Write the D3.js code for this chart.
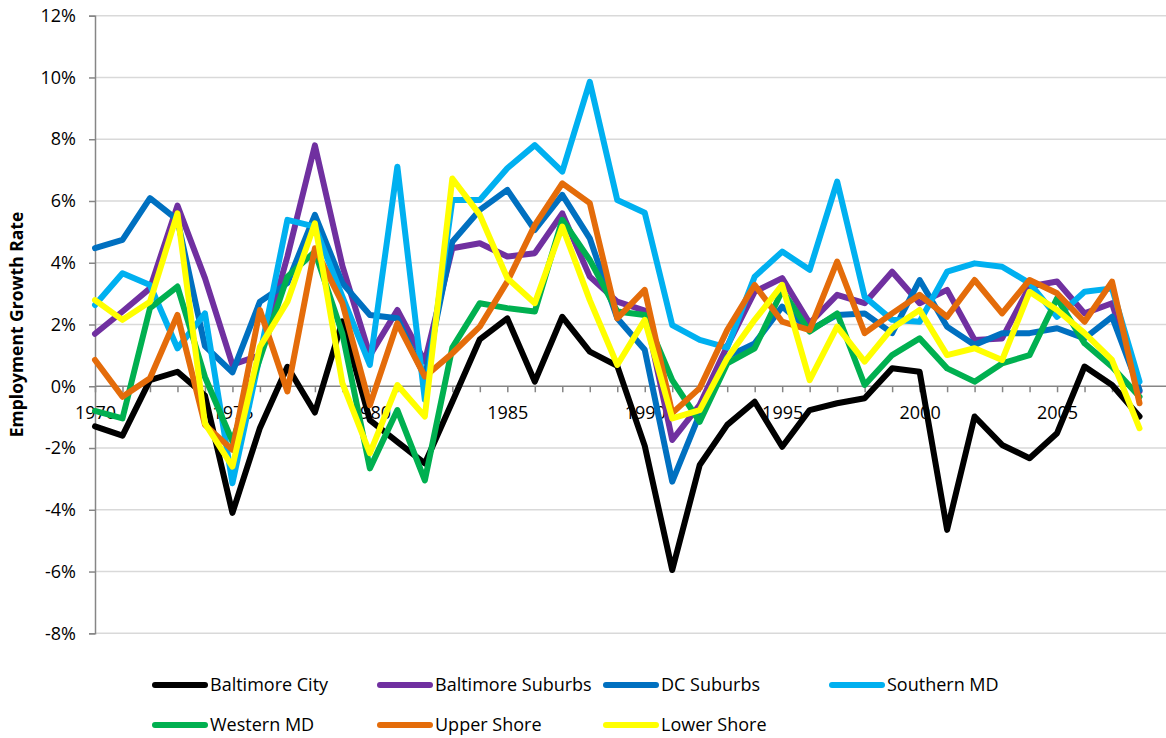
<!DOCTYPE html>
<html>
<head>
<meta charset="utf-8">
<script src="https://cdn.jsdelivr.net/npm/d3@7"></script>
<style>
  html, body { margin: 0; padding: 0; background: #fff; }
  svg { display: block; font-family: "Open Sans", "Liberation Sans", sans-serif; }
</style>
</head>
<body>
<svg id="chart" width="1166" height="738"></svg>
<script>
// ---- data ----
const years = d3.range(1970, 2009);
const yTicks = [-8, -6, -4, -2, 0, 2, 4, 6, 8, 10, 12];
const xLabelYears = [1970, 1975, 1980, 1985, 1990, 1995, 2000, 2005];

const seriesNames = ["Baltimore City", "Baltimore Suburbs", "DC Suburbs", "Southern MD", "Western MD", "Upper Shore", "Lower Shore"];
const seriesColors = ["#000000", "#7030A0", "#0070C0", "#00B0F0", "#00B050", "#E46C0A", "#FFFF00"];

const baltimoreCity = [-1.3, -1.6, 0.2, 0.47, -0.3, -4.1, -1.35, 0.63, -0.85, 2.1,
  -1.1, -1.8, -2.5, -0.5, 1.52, 2.2, 0.15, 2.25, 1.12, 0.66,
  -1.93, -5.95, -2.55, -1.25, -0.5, -1.96, -0.77, -0.55, -0.39, 0.58,
  0.47, -4.65, -0.98, -1.9, -2.33, -1.52, 0.64, 0.04, -0.98];
const baltimoreSuburbs = [1.7, 2.42, 3.17, 5.85, 3.5, 0.7, 1.0, 4.2, 7.8, 3.9,
  1.0, 2.47, 0.8, 4.47, 4.63, 4.2, 4.31, 5.6, 3.55, 2.74,
  2.45, -1.74, -0.6, 1.3, 3.06, 3.5, 2.04, 2.96, 2.69, 3.71,
  2.69, 3.12, 1.5, 1.55, 3.23, 3.39, 2.36, 2.69, -0.17];
const dcSuburbs = [4.47, 4.74, 6.09, 5.39, 1.3, 0.45, 2.74, 3.34, 5.55, 3.34,
  2.31, 2.2, 0.3, 4.68, 5.71, 6.36, 5.06, 6.2, 4.79, 2.2,
  1.18, -3.09, -0.9, 0.96, 1.39, 2.58, 1.82, 2.31, 2.36, 1.72,
  3.44, 1.93, 1.34, 1.72, 1.72, 1.88, 1.55, 2.25, -0.12];
const southernMD = [2.63, 3.66, 3.28, 1.23, 2.36, -3.14, 1.0, 5.39, 5.17, 2.9,
  0.69, 7.11, -0.44, 6.03, 6.03, 7.06, 7.81, 6.95, 9.86, 6.03,
  5.62, 1.98, 1.5, 1.25, 3.55, 4.36, 3.77, 6.63, 2.9, 2.15,
  2.09, 3.71, 3.98, 3.87, 3.34, 2.25, 3.06, 3.17, 0.15];
const westernMD = [-0.8, -1.04, 2.53, 3.23, 0.3, -1.79, 0.9, 3.55, 4.36, 1.7,
  -2.66, -0.77, -3.05, 1.25, 2.69, 2.53, 2.42, 5.39, 4.09, 2.42,
  2.31, 0.2, -1.15, 0.74, 1.23, 3.1, 1.77, 2.36, 0.04, 1.01,
  1.55, 0.58, 0.15, 0.74, 1.01, 2.85, 1.39, 0.63, -0.34];
const upperShore = [0.85, -0.34, 0.26, 2.31, -1.25, -2.06, 2.47, -0.17, 4.47, 2.69,
  -0.61, 2.04, 0.31, 1.07, 1.93, 3.39, 5.22, 6.57, 5.93, 2.2,
  3.12, -0.87, -0.06, 1.82, 3.28, 2.09, 1.82, 4.04, 1.72, 2.36,
  2.96, 2.25, 3.44, 2.36, 3.44, 3.01, 2.09, 3.39, -0.55];
const lowerShore = [2.79, 2.15, 2.74, 5.6, -1.2, -2.6, 1.28, 2.74, 5.28, 0.1,
  -2.17, 0.04, -0.98, 6.73, 5.55, 3.5, 2.69, 5.17, 2.79, 0.69,
  2.15, -1.04, -0.77, 0.91, 2.15, 3.28, 0.2, 1.93, 0.8, 1.88,
  2.47, 1.01, 1.23, 0.85, 3.06, 2.47, 1.72, 0.85, -1.36];

const seriesValues = [baltimoreCity, baltimoreSuburbs, dcSuburbs, southernMD, westernMD, upperShore, lowerShore];

// ---- layout ----
const svg = d3.select("#chart");
const plotLeft = 95, plotRight = 1167, plotTop = 15.7, plotBottom = 633.3;

const x = d3.scaleLinear().domain([1970, 2009]).range([plotLeft, plotRight]);
const y = d3.scaleLinear().domain([-8, 12]).range([plotBottom, plotTop]);

const axisColor = "#868686";
const gridColor = "#D9D9D9";

// gridlines
svg.append("g").selectAll("line").data(yTicks.filter(v => v !== 0)).join("line")
  .attr("x1", plotLeft).attr("x2", 1166)
  .attr("y1", d => y(d)).attr("y2", d => y(d))
  .attr("stroke", gridColor).attr("stroke-width", 1.5);

// y axis
const yAxis = d3.axisLeft(y).tickValues(yTicks).tickSize(6).tickPadding(13)
  .tickFormat(d => d + "%");
const gy = svg.append("g").attr("transform", `translate(${plotLeft},0)`).call(yAxis);
gy.select(".domain").attr("stroke", axisColor).attr("stroke-width", 1.5);
gy.selectAll(".tick line").attr("stroke", axisColor).attr("stroke-width", 1.5);
gy.selectAll(".tick text").attr("font-size", 18).attr("fill", "#000")
  .attr("font-family", "'Open Sans', sans-serif");

// x axis at 0
const xAxis = d3.axisBottom(x).tickValues(years).tickSize(6).tickSizeOuter(0)
  .tickFormat(d => xLabelYears.includes(d) ? String(d) : "");
const gx = svg.append("g").attr("transform", `translate(0,${y(0)})`).call(xAxis);
gx.select(".domain").attr("stroke", axisColor).attr("stroke-width", 1.5)
  .attr("d", `M${plotLeft},0H1166`);
gx.selectAll(".tick line").attr("stroke", axisColor).attr("stroke-width", 1.5);
gx.selectAll(".tick text").attr("font-size", 18).attr("fill", "#000")
  .attr("dy", "1.3em").attr("font-family", "'Open Sans', sans-serif");

// y title
svg.append("text")
  .attr("transform", `translate(23,${(plotTop + plotBottom) / 2}) rotate(-90)`)
  .attr("text-anchor", "middle")
  .attr("font-size", 17.5).attr("font-weight", "bold")
  .text("Employment Growth Rate");

// lines
const line = d3.line().x((d, i) => x(years[i])).y(d => y(d));
svg.append("g").selectAll("path").data(seriesValues).join("path")
  .attr("d", d => line(d))
  .attr("fill", "none")
  .attr("stroke", (d, i) => seriesColors[i])
  .attr("stroke-width", 6)
  .attr("stroke-linejoin", "round")
  .attr("stroke-linecap", "round");

// legend
const legendPos = [[152, 685], [377, 685], [603, 685], [829, 685], [152, 725], [377, 725], [603, 725]];
const lg = svg.append("g").selectAll("g").data(seriesNames).join("g")
  .attr("transform", (d, i) => `translate(${legendPos[i][0]},${legendPos[i][1]})`);
lg.append("line").attr("x1", 3).attr("x2", 53).attr("y1", 0).attr("y2", 0)
  .attr("stroke", (d, i) => seriesColors[i]).attr("stroke-width", 6)
  .attr("stroke-linecap", "round");
lg.append("text").attr("x", 58).attr("y", 0).attr("dy", "0.35em")
  .attr("font-size", 18).text(d => d);
</script>
</body>
</html>
